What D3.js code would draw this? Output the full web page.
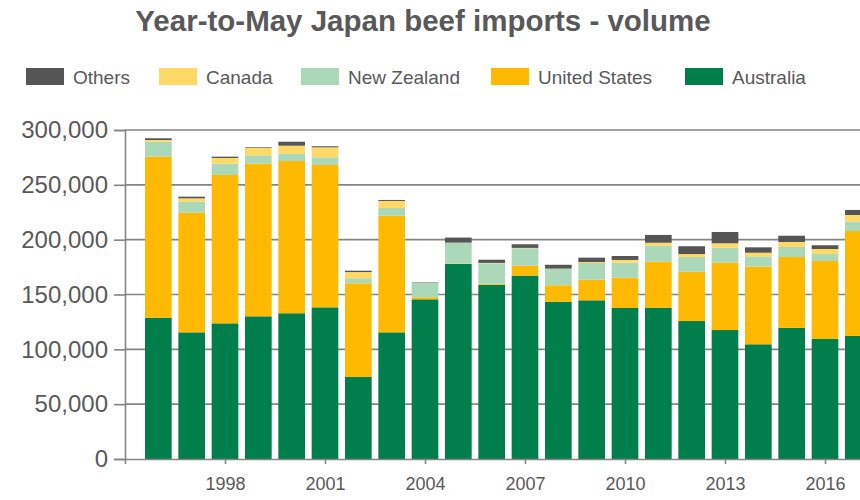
<!DOCTYPE html>
<html>
<head>
<meta charset="utf-8">
<script src="https://cdn.jsdelivr.net/npm/d3@7"></script>
<style>
  html, body { margin: 0; padding: 0; background: #fff; overflow: hidden; }
  svg { display: block; font-family: "Liberation Sans", Arial, sans-serif; }
</style>
</head>
<body>
<svg id="chart" width="860" height="500"></svg>
<script>
const years = [1996,1997,1998,1999,2000,2001,2002,2003,2004,2005,2006,2007,2008,2009,2010,2011,2012,2013,2014,2015,2016,2017];
const australia    = [128850,115500,123700,130100,132900,138300,74800,115500,145600,177800,158900,167200,143400,144700,137700,138000,125800,117600,104600,119700,109400,112200];
const unitedStates = [146800,109100,135300,139200,138800,129800,85400,106400,1900,300,1000,9100,15000,18800,27600,41900,45000,61400,70800,64500,71200,95700];
const newZealand   = [13600,10000,10300,7600,6700,7000,4600,7000,13000,19000,18600,15900,14900,15200,13700,14600,13400,13700,9400,9100,6300,8500];
const canada       = [1600,3100,5200,6700,7300,9100,5700,6400,200,200,300,300,300,900,2500,2700,2700,4000,3300,4600,4600,6100];
const others       = [1600,1500,1200,600,3600,1000,1200,900,400,4600,2900,3300,3500,4000,3600,7100,7100,10300,4900,5700,3400,4600];

const seriesNames = ["Australia","United States","New Zealand","Canada","Others"];
const seriesValues = [australia, unitedStates, newZealand, canada, others];
const legendOrder = ["Others","Canada","New Zealand","United States","Australia"];
const yTicks = [0,50000,100000,150000,200000,250000,300000];
const xTicks = [1995,1998,2001,2004,2007,2010,2013,2016];
const colors = {"Australia":"#007e4c","United States":"#ffb900","New Zealand":"#aad8b8","Canada":"#ffd966","Others":"#555555"};

const svg = d3.select("#chart");
const textColor = "#595959";
const gridColor = "#858585";

const x = d3.scaleLinear().domain([1995, 2017.05]).range([125, 860]);
const y = d3.scaleLinear().domain([0, 300000]).range([459, 130]);
const step = x(1996) - x(1995);
const barW = step * 0.8;

// title
svg.append("text")
  .attr("x", 423).attr("y", 31)
  .attr("text-anchor", "middle")
  .attr("font-size", 29.5).attr("font-weight", "bold")
  .attr("fill", textColor)
  .text("Year-to-May Japan beef imports - volume");

// gridlines
svg.append("g").selectAll("line").data(yTicks.filter(d => d > 0)).join("line")
  .attr("x1", 125).attr("x2", 860)
  .attr("y1", d => y(d)).attr("y2", d => y(d))
  .attr("stroke", gridColor).attr("stroke-width", 1.6);

// stacked data
const table = years.map((yr, i) => {
  const o = {year: yr};
  seriesNames.forEach((s, k) => o[s] = seriesValues[k][i]);
  return o;
});
const stacked = d3.stack().keys(seriesNames)(table);

svg.append("g").selectAll("g").data(stacked).join("g")
  .attr("fill", d => colors[d.key])
  .selectAll("rect").data(d => d).join("rect")
  .attr("x", d => x(d.data.year) - barW / 2)
  .attr("width", barW)
  .attr("y", d => y(d[1]))
  .attr("height", d => y(d[0]) - y(d[1]));

// y axis
const yAxis = d3.axisLeft(y).tickValues(yTicks).tickSize(11).tickPadding(6)
  .tickFormat(d3.format(","));
const gy = svg.append("g").attr("transform", "translate(125,0)").call(yAxis);
gy.select(".domain").attr("stroke", gridColor).attr("stroke-width", 1.6);
gy.selectAll(".tick line").attr("stroke", gridColor).attr("stroke-width", 1.6);
gy.selectAll("text").attr("font-size", 24).attr("fill", textColor)
  .attr("font-family", "Liberation Sans, Arial, sans-serif");

// x axis
const xAxis = d3.axisBottom(x).tickValues(xTicks).tickSize(5).tickPadding(13)
  .tickSizeOuter(0)
  .tickFormat(d => d === 1995 ? "" : String(d));
const gx = svg.append("g").attr("transform", "translate(0,459)").call(xAxis);
gx.select(".domain").attr("stroke", gridColor).attr("stroke-width", 1.6);
gx.selectAll(".tick line").attr("stroke", gridColor).attr("stroke-width", 1.6);
gx.selectAll("text").attr("font-size", 18).attr("fill", textColor)
  .attr("font-family", "Liberation Sans, Arial, sans-serif");

// legend
const legendX = [26, 159, 301, 491, 685];
const lg = svg.append("g");
legendOrder.forEach((name, i) => {
  lg.append("rect").attr("x", legendX[i]).attr("y", 68).attr("width", 38).attr("height", 17)
    .attr("fill", colors[name]);
  lg.append("text").attr("x", legendX[i] + 47).attr("y", 83.5)
    .attr("font-size", 19).attr("fill", textColor).text(name);
});
</script>
</body>
</html>
